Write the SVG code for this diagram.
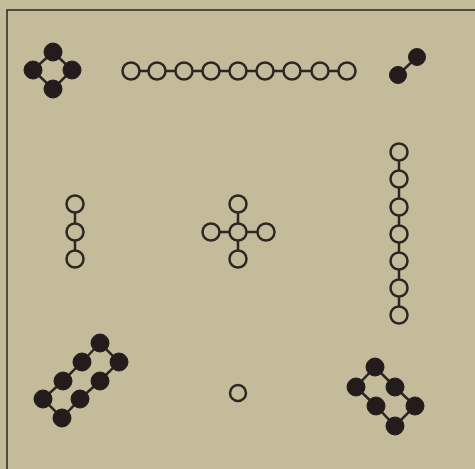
<svg xmlns="http://www.w3.org/2000/svg" width="475" height="469" viewBox="0 0 475 469">
<style>
.bond{stroke:#2e2622;stroke-width:2.5;fill:none}
.h{fill:#c3bb9a;stroke:#2e2622;stroke-width:2.5}
.f{fill:#241c1c;stroke:#241c1c;stroke-width:1}
</style>
<rect width="475" height="469" fill="#c3bb9a"/>
<path d="M7,475 V10 H475" fill="none" stroke="#2e2a26" stroke-width="1.5"/>
<g id="connectors">
<path class="bond" d="M53,52 L72,70 L53,89 L33,70 Z"/>
<path class="bond" d="M131,71 H347"/>
<path class="bond" d="M417,57 L398,75"/>
<path class="bond" d="M75,204 V259"/>
<path class="bond" d="M238,204 V259 M211,232 H266"/>
<path class="bond" d="M399,152 V315"/>
<path class="bond" d="M100,343 L82,362 L63,381 L43,399 L62,418 L80,399 L100,381 L119,362 Z"/>
<path class="bond" d="M375,367 L356,387 L376,406 L395,426 L415,406 L395,387 Z"/>
</g>
<g id="diamond">
<circle class="f" cx="53" cy="52" r="9"/><circle class="f" cx="72" cy="70" r="9"/><circle class="f" cx="53" cy="89" r="9"/><circle class="f" cx="33" cy="70" r="9"/>
</g>
<g id="chain9">
<circle class="h" cx="131" cy="71" r="8.5"/><circle class="h" cx="157" cy="71" r="8.5"/><circle class="h" cx="184" cy="71" r="8.5"/><circle class="h" cx="211" cy="71" r="8.5"/><circle class="h" cx="238" cy="71" r="8.5"/><circle class="h" cx="265" cy="71" r="8.5"/><circle class="h" cx="292" cy="71" r="8.5"/><circle class="h" cx="320" cy="71" r="8.5"/><circle class="h" cx="347" cy="71" r="8.5"/>
</g>
<g id="dimer">
<circle class="f" cx="417" cy="57" r="8.5"/><circle class="f" cx="398" cy="75" r="8.5"/>
</g>
<g id="chain3">
<circle class="h" cx="75" cy="204" r="8.5"/><circle class="h" cx="75" cy="232" r="8.5"/><circle class="h" cx="75" cy="259" r="8.5"/>
</g>
<g id="cross">
<circle class="h" cx="238" cy="204" r="8.5"/><circle class="h" cx="238" cy="232" r="8.5"/><circle class="h" cx="238" cy="259" r="8.5"/><circle class="h" cx="211" cy="232" r="8.5"/><circle class="h" cx="266" cy="232" r="8.5"/>
</g>
<g id="chain7">
<circle class="h" cx="399" cy="152" r="8.5"/><circle class="h" cx="399" cy="179" r="8.5"/><circle class="h" cx="399" cy="207" r="8.5"/><circle class="h" cx="399" cy="234" r="8.5"/><circle class="h" cx="399" cy="261" r="8.5"/><circle class="h" cx="399" cy="288" r="8.5"/><circle class="h" cx="399" cy="315" r="8.5"/>
</g>
<g id="ring8">
<circle class="f" cx="100" cy="343" r="9"/><circle class="f" cx="82" cy="362" r="9"/><circle class="f" cx="63" cy="381" r="9"/><circle class="f" cx="43" cy="399" r="9"/><circle class="f" cx="62" cy="418" r="9"/><circle class="f" cx="80" cy="399" r="9"/><circle class="f" cx="100" cy="381" r="9"/><circle class="f" cx="119" cy="362" r="9"/>
</g>
<g id="ring6">
<circle class="f" cx="375" cy="367" r="9"/><circle class="f" cx="356" cy="387" r="9"/><circle class="f" cx="376" cy="406" r="9"/><circle class="f" cx="395" cy="426" r="9"/><circle class="f" cx="415" cy="406" r="9"/><circle class="f" cx="395" cy="387" r="9"/>
</g>
<g id="single">
<circle class="h" cx="238" cy="393" r="8"/>
</g>
</svg>
